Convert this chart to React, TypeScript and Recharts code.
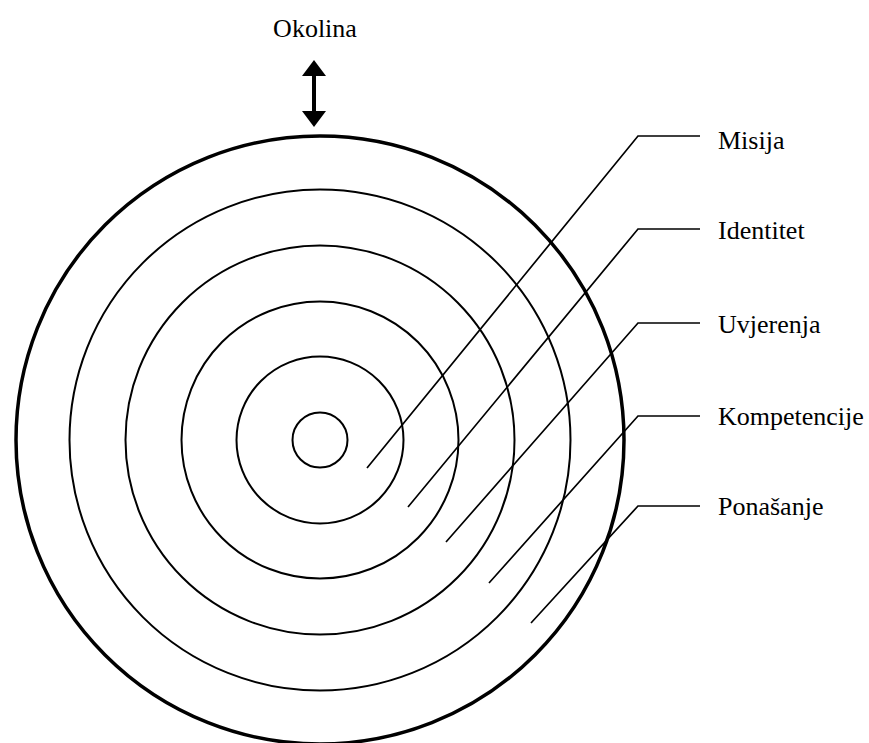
import React from "react"
import { ScatterChart, Scatter, XAxis, YAxis, ReferenceDot, ReferenceLine } from "recharts"

const W = 869
const H = 743

// ring geometry (pixel-scale data units)
const CENTER_X = 320
const CENTER_Y = 440
const RING_RADII = [27.5, 83.5, 138.5, 194.5, 250.5]
const OUTER_RADIUS = 304

// layers, inner to outer
const LAYERS = ["Misija", "Identitet", "Uvjerenja", "Kompetencije", "Ponašanje"]
const LEADER_START_X = [367, 408, 446, 489, 531]
const LEADER_START_Y = [468, 507, 542, 583, 623]
const LEADER_ELBOW_X = 638
const LEADER_Y = [136, 229, 323, 416, 506]
const LEADER_END_X = 700
const LABEL_X = 718
const LABEL_BASELINE = [149, 239, 333, 425, 515]

// environment arrow
const TOP_LABEL = "Okolina"
const TOP_LABEL_X = 315
const TOP_LABEL_BASELINE = 37
const ARROW_X = 314
const ARROW_TIPS = [
  { x: ARROW_X, y: 60, dir: "up" },
  { x: ARROW_X, y: 127, dir: "down" },
]

const FONT = "'Liberation Serif', 'Times New Roman', Times, serif"

const labelData = [
  ...LAYERS.map((name, i) => ({ x: LABEL_X, y: LABEL_BASELINE[i], name, anchor: "start" })),
  { x: TOP_LABEL_X, y: TOP_LABEL_BASELINE, name: TOP_LABEL, anchor: "middle" },
]

const LabelShape = (props: any) => {
  const { cx, cy, payload } = props
  return (
    <text x={cx} y={cy} textAnchor={payload.anchor} style={{ fontFamily: FONT, fontSize: 26, fill: "#000" }}>
      {payload.name}
    </text>
  )
}

const ArrowHead = (props: any) => {
  const { cx, cy, payload } = props
  const s = payload.dir === "up" ? 1 : -1
  return <polygon points={`${cx},${cy} ${cx - 12},${cy + s * 16} ${cx + 12},${cy + s * 16}`} fill="#000" />
}

const NoDot = () => <g />

export default function App() {
  return (
    <div style={{ position: "absolute", left: 0, top: 0, background: "#fff" }}>
      <ScatterChart width={W} height={H} margin={{ top: 0, right: 0, bottom: 0, left: 0 }}>
        <XAxis type="number" dataKey="x" domain={[0, W]} hide allowDataOverflow />
        <YAxis type="number" dataKey="y" domain={[0, H]} reversed hide allowDataOverflow />

        {RING_RADII.map((r) => (
          <ReferenceDot key={r} x={CENTER_X} y={CENTER_Y} r={r} fill="none" stroke="#000" strokeWidth={2} />
        ))}
        <ReferenceDot x={CENTER_X} y={CENTER_Y} r={OUTER_RADIUS} fill="none" stroke="#000" strokeWidth={3.5} />

        {LAYERS.map((name, i) => (
          <Scatter
            key={name}
            data={[
              { x: LEADER_START_X[i], y: LEADER_START_Y[i] },
              { x: LEADER_ELBOW_X, y: LEADER_Y[i] },
              { x: LEADER_END_X, y: LEADER_Y[i] },
            ]}
            line={{ stroke: "#000", strokeWidth: 1.7 }}
            shape={NoDot}
            isAnimationActive={false}
          />
        ))}

        <ReferenceLine
          segment={[{ x: ARROW_X, y: 70 }, { x: ARROW_X, y: 117 }]}
          stroke="#000"
          strokeWidth={4}
        />
        <Scatter data={ARROW_TIPS} shape={ArrowHead} isAnimationActive={false} />
        <Scatter data={labelData} shape={LabelShape} isAnimationActive={false} />
      </ScatterChart>
    </div>
  )
}
